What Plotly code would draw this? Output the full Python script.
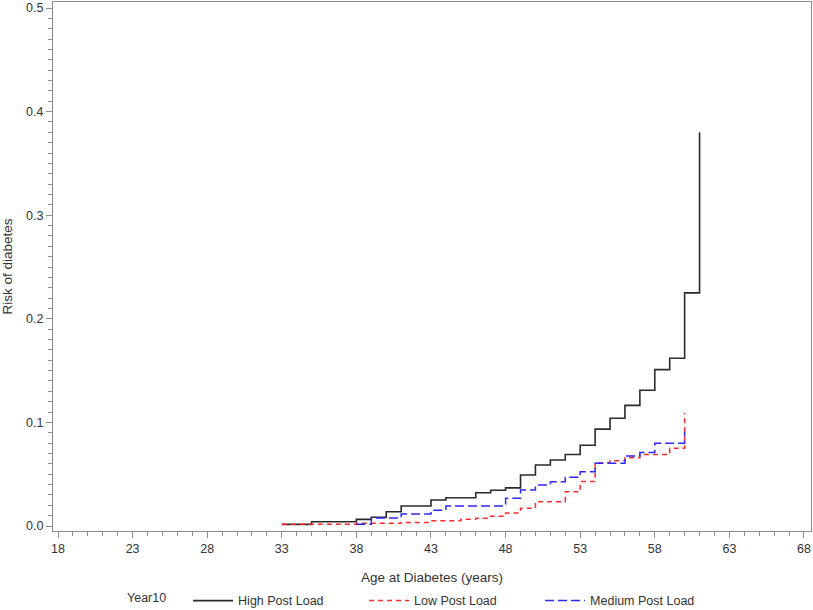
import plotly.graph_objects as go

# ---- data ----
high_age = [33, 35, 38, 39, 40, 41, 43, 44, 46, 47, 48, 49, 50, 51, 52, 53, 54, 55, 56, 57, 58, 59, 60, 61]
high_risk = [0.0016, 0.0042, 0.0064, 0.0084, 0.0138, 0.0193, 0.0251, 0.0273, 0.0321, 0.0345, 0.0368,
             0.0492, 0.0589, 0.0637, 0.069, 0.078, 0.0935, 0.104, 0.1165, 0.131, 0.151, 0.162, 0.225, 0.38]

low_age = [33, 38, 41, 43, 45, 46, 47, 48, 49, 50, 52, 53, 54, 55, 56, 57, 59, 60]
low_risk = [0.0016, 0.0026, 0.0035, 0.005, 0.0065, 0.0074, 0.0095, 0.0125, 0.0171, 0.0235, 0.033,
            0.043, 0.061, 0.063, 0.066, 0.069, 0.075, 0.109]

med_age = [38, 39, 41, 43, 44, 48, 49, 50, 51, 52, 53, 54, 56, 57, 58, 60]
med_risk = [0.0016, 0.0078, 0.0115, 0.0152, 0.0193, 0.0267, 0.0347, 0.0396, 0.0428, 0.047, 0.0524,
            0.0605, 0.0676, 0.071, 0.080, 0.091]

series_names = ["High Post Load", "Low Post Load", "Medium Post Load"]
x_ticks = list(range(18, 69, 5))
y_ticks = [0.0, 0.1, 0.2, 0.3, 0.4, 0.5]

FONT = "Liberation Sans, Arial, sans-serif"
AX = "#8c8c8c"

fig = go.Figure()
fig.add_trace(go.Scatter(x=high_age, y=high_risk, mode="lines", line_shape="hv",
                         name=series_names[0], line=dict(color="#2b2b2b", width=1.6)))
fig.add_trace(go.Scatter(x=low_age, y=low_risk, mode="lines", line_shape="hv",
                         name=series_names[1], line=dict(color="#ff2a2a", width=1.5, dash="5px,4px")))
fig.add_trace(go.Scatter(x=med_age, y=med_risk, mode="lines", line_shape="hv",
                         name=series_names[2], line=dict(color="#2a2aff", width=1.5, dash="9px,4px")))

fig.update_layout(
    width=813, height=610,
    margin=dict(l=53, r=2, t=2, b=79, autoexpand=False),
    paper_bgcolor="white", plot_bgcolor="white",
    font=dict(family=FONT, size=12.5, color="#333333"),
    legend=dict(orientation="h", x=0.095, xanchor="left", y=-0.1323, yanchor="middle",
                title=dict(text="Year10    ", font=dict(size=12.5)),
                font=dict(size=12.5), entrywidth=121, itemwidth=40,
                bgcolor="rgba(0,0,0,0)"),
    xaxis=dict(range=[17.665, 68.47], tickvals=x_ticks, ticks="outside", ticklen=6,
               tickcolor=AX, linecolor=AX, linewidth=1, mirror=True, showgrid=False,
               zeroline=False, tickfont=dict(size=12.5), automargin=False,
               minor=dict(dtick=1, tick0=18, ticks="outside", ticklen=4, tickcolor=AX, showgrid=False),
               title=dict(text="Age at Diabetes (years)", standoff=17, font=dict(size=13.5))),
    yaxis=dict(range=[-0.0048, 0.5058], tickvals=y_ticks, tickformat=".1f", ticks="outside",
               ticklen=6, tickcolor=AX, linecolor=AX, linewidth=1, mirror=True, showgrid=False,
               zeroline=False, tickfont=dict(size=12.5), automargin=False,
               minor=dict(dtick=0.01, tick0=0, ticks="outside", ticklen=4, tickcolor=AX, showgrid=False),
               title=dict(text="Risk of diabetes", standoff=10, font=dict(size=13.5))),
)

fig.write_html("out.html", config={"displayModeBar": False},
               post_script="document.body.style.margin='0';document.body.style.overflow='hidden';")
